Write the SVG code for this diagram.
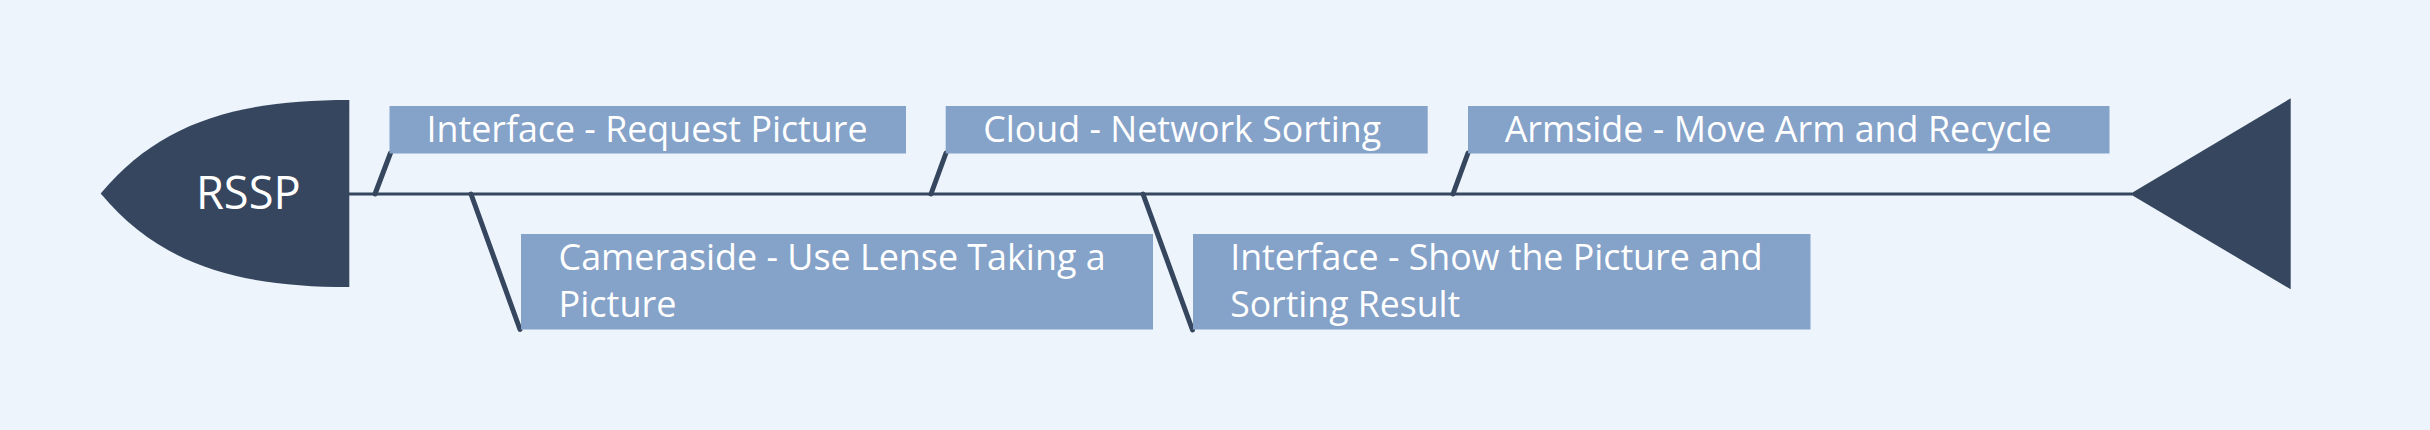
<svg xmlns="http://www.w3.org/2000/svg" width="2430" height="430" viewBox="0 0 2430 430">
<style>
.bg{fill:#edf4fb}
.dark{fill:#35465e}
.box{fill:#85a2c9}
.t{font-family:"Open Sans","Noto Sans",sans-serif;font-size:36px;fill:#ffffff}
.title{font-family:"Open Sans","Noto Sans",sans-serif;font-size:45px;fill:#ffffff}
.spine{stroke:#35465e;stroke-width:3;fill:none}
.bone{stroke:#35465e;stroke-width:5;stroke-linecap:round;fill:none}
</style>
<rect class="bg" x="0" y="0" width="2430" height="430"/>
<g id="connectors">
<line class="spine" x1="349" y1="194" x2="2132" y2="194"/>
<line class="bone" x1="375" y1="194" x2="390.5" y2="153"/>
<line class="bone" x1="471" y1="194" x2="520" y2="329.5"/>
<line class="bone" x1="931" y1="194" x2="946" y2="153"/>
<line class="bone" x1="1143" y1="194" x2="1192.5" y2="330"/>
<line class="bone" x1="1453" y1="194" x2="1468" y2="153"/>
</g>
<g id="head">
<path class="dark" d="M100.7,193.5 C160.7,121.5 239,100 349.3,100 L349.3,287 C239,287 160.7,265.5 100.7,193.5 Z"/>
<text class="title" x="248.3" y="208.5" text-anchor="middle" textLength="104.7" lengthAdjust="spacingAndGlyphs">RSSP</text>
</g>
<g id="tail">
<path class="dark" d="M2130,194 L2290.7,98.3 L2290.7,289.3 Z"/>
</g>
<g id="node1">
<rect class="box" x="389.5" y="106" width="516.5" height="47.5"/>
<text class="t" x="426.5" y="141.7" textLength="441" lengthAdjust="spacingAndGlyphs">Interface - Request Picture</text>
</g>
<g id="node2">
<rect class="box" x="521" y="234" width="632" height="95.5"/>
<text class="t" x="558.6" y="270" textLength="547" lengthAdjust="spacingAndGlyphs">Cameraside - Use Lense Taking a</text>
<text class="t" x="558.6" y="317">Picture</text>
</g>
<g id="node3">
<rect class="box" x="945.7" y="106" width="482" height="47.5"/>
<text class="t" x="983.2" y="141.7" textLength="398" lengthAdjust="spacingAndGlyphs">Cloud - Network Sorting</text>
</g>
<g id="node4">
<rect class="box" x="1468" y="106" width="641.5" height="47.5"/>
<text class="t" x="1504.7" y="141.7" textLength="547" lengthAdjust="spacingAndGlyphs">Armside - Move Arm and Recycle</text>
</g>
<g id="node5">
<rect class="box" x="1193" y="234" width="617.5" height="95.5"/>
<text class="t" x="1230.2" y="270" textLength="532.5" lengthAdjust="spacingAndGlyphs">Interface - Show the Picture and</text>
<text class="t" x="1230.2" y="317" textLength="230" lengthAdjust="spacingAndGlyphs">Sorting Result</text>
</g>
</svg>
